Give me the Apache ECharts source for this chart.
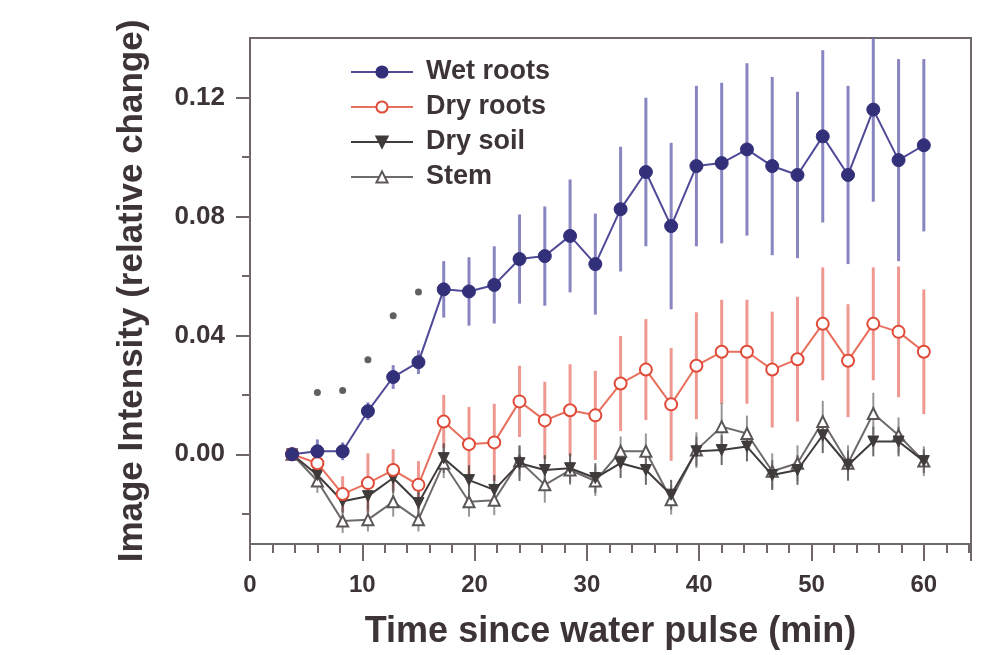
<!DOCTYPE html>
<html>
<head>
<meta charset="utf-8">
<script src="https://cdn.jsdelivr.net/npm/echarts@6/dist/echarts.min.js"></script>
<style>html,body{margin:0;padding:0;background:#fff;}#c{width:987px;height:655px;}</style>
</head>
<body>
<div id="c"></div>
<script>
// ---- data ----
const times = [3.75, 6.0, 8.25, 10.5, 12.75, 15.0, 17.25, 19.5, 21.75, 24.0, 26.25, 28.5, 30.75,
               33.0, 35.25, 37.5, 39.75, 42.0, 44.25, 46.5, 48.75, 51.0, 53.25, 55.5, 57.75, 60.0];

const wetRoots = [0.000, 0.001, 0.001, 0.0145, 0.026, 0.031, 0.0555, 0.0548, 0.057, 0.0657, 0.0667, 0.0735, 0.064,
                  0.0825, 0.095, 0.0768, 0.097, 0.098, 0.1026, 0.097, 0.094, 0.107, 0.094, 0.116, 0.099, 0.104];
const wetErr   = [0, 0.004, 0.003, 0.003, 0.004, 0.004, 0.0095, 0.0115, 0.013, 0.015, 0.0167, 0.019, 0.017,
                  0.021, 0.025, 0.028, 0.027, 0.027, 0.029, 0.030, 0.028, 0.029, 0.030, 0.031, 0.034, 0.029];

const dryRoots = [0.000, -0.003, -0.0134, -0.0097, -0.0053, -0.0103, 0.011, 0.0034, 0.004, 0.0178, 0.0114, 0.0148, 0.0131,
                  0.0238, 0.0285, 0.0168, 0.0298, 0.0345, 0.0345, 0.0285, 0.032, 0.0439, 0.0315, 0.0439, 0.0412, 0.0345];
const dryErr   = [0, 0.003, 0.006, 0.010, 0.007, 0.008, 0.009, 0.0125, 0.013, 0.012, 0.013, 0.0155, 0.015,
                  0.016, 0.017, 0.019, 0.018, 0.0175, 0.0175, 0.0195, 0.021, 0.019, 0.019, 0.019, 0.022, 0.021];

const drySoil  = [0.000, -0.007, -0.0158, -0.0141, -0.008, -0.0164, -0.0013, -0.0087, -0.012, -0.003, -0.0053, -0.0047, -0.008,
                  -0.003, -0.0053, -0.0136, 0.001, 0.0014, 0.0026, -0.007, -0.0053, 0.0064, -0.0037, 0.0043, 0.0043, -0.0023];
const soilErr  = [0, 0.003, 0.004, 0.005, 0.005, 0.004, 0.005, 0.005, 0.005, 0.006, 0.005, 0.005, 0.005,
                  0.005, 0.005, 0.005, 0.005, 0.005, 0.005, 0.005, 0.005, 0.006, 0.005, 0.005, 0.005, 0.004];

const stem     = [0.000, -0.009, -0.0225, -0.022, -0.016, -0.022, -0.003, -0.016, -0.0155, -0.0023, -0.0103, -0.0053, -0.009,
                  0.001, 0.001, -0.0153, 0.0014, 0.0093, 0.007, -0.0057, -0.003, 0.011, -0.003, 0.0137, 0.0064, -0.0023];
const stemErr  = [0, 0.004, 0.004, 0.004, 0.005, 0.004, 0.005, 0.005, 0.005, 0.005, 0.006, 0.005, 0.005,
                  0.005, 0.006, 0.005, 0.006, 0.008, 0.006, 0.006, 0.006, 0.007, 0.006, 0.007, 0.006, 0.005];

const sigTimes  = [6.0, 8.25, 10.5, 12.75, 15.0];
const sigValues = [0.0208, 0.0215, 0.0318, 0.0466, 0.0546];

const xTickLabels = [0, 10, 20, 30, 40, 50, 60];
const yTickLabels = [0.00, 0.04, 0.08, 0.12];
const yMinorTicks = [-0.02, 0.02, 0.06, 0.10];

const seriesNames = ['Wet roots', 'Dry roots', 'Dry soil', 'Stem'];

// ---- build ----
const FONT = '"Liberation Sans", Arial, sans-serif';
const TXT = '#3d3438';
const AX = '#6f6769';

function pairs(vals) { return vals.map((v, i) => [times[i], v]); }
function bars(vals, errs) { return vals.map((v, i) => [times[i], v - errs[i], v + errs[i]]); }
function errSeries(name, vals, errs, color, width) {
  return {
    type: 'custom', name: name, z: 1, clip: true, silent: true,
    data: bars(vals, errs),
    renderItem: function (params, api) {
      const x = api.value(0);
      const p1 = api.coord([x, api.value(1)]);
      const p2 = api.coord([x, api.value(2)]);
      return { type: 'line', shape: { x1: p1[0], y1: p1[1], x2: p2[0], y2: p2[1] },
               style: { stroke: color, lineWidth: width } };
    }
  };
}

const chart = echarts.init(document.getElementById('c'), null, { renderer: 'canvas' });
chart.setOption({
  animation: false,
  backgroundColor: '#ffffff',
  grid: { left: 250, right: 16, top: 38, bottom: 109, show: true, borderColor: AX, borderWidth: 2, backgroundColor: 'transparent' },
  legend: {
    data: seriesNames,
    orient: 'vertical', left: 345, top: 53,
    itemWidth: 62, itemHeight: 14, itemGap: 7,
    textStyle: { fontFamily: FONT, fontWeight: 'bold', fontSize: 27, color: TXT, lineHeight: 28, padding: [0, 0, 0, 8] }
  },
  xAxis: {
    type: 'value', min: 0, max: 64.2, interval: 10,
    name: 'Time since water pulse (min)', nameLocation: 'middle', nameGap: 70,
    nameTextStyle: { fontFamily: FONT, fontWeight: 'bold', fontSize: 36, color: TXT },
    axisLine: { show: true, onZero: false, lineStyle: { color: AX, width: 2 } },
    axisTick: { show: true, inside: false, length: 17, lineStyle: { color: AX, width: 2 } },
    minorTick: { show: true, splitNumber: 5, length: 9, lineStyle: { color: AX, width: 2 } },
    splitLine: { show: false },
    axisLabel: { fontFamily: FONT, fontWeight: 'bold', fontSize: 24, color: TXT, margin: 29,
                 customValues: xTickLabels }
  },
  yAxis: [{
    type: 'value', min: -0.0302, max: 0.1401,
    name: 'Image Intensity (relative change)', nameLocation: 'middle', nameGap: 100, nameRotate: 90,
    nameTextStyle: { fontFamily: FONT, fontWeight: 'bold', fontSize: 35, color: TXT },
    axisLine: { show: true, onZero: false, lineStyle: { color: AX, width: 2 } },
    axisTick: { show: true, inside: false, length: 14, lineStyle: { color: AX, width: 2 }, customValues: yTickLabels },
    splitLine: { show: false },
    axisLabel: { fontFamily: FONT, fontWeight: 'bold', fontSize: 26, color: TXT, margin: 25,
                 customValues: yTickLabels, formatter: v => v.toFixed(2) }
  }, {
    type: 'value', min: -0.0302, max: 0.1401, position: 'left',
    axisLine: { show: false, onZero: false },
    axisTick: { show: true, inside: false, length: 8, lineStyle: { color: AX, width: 2 }, customValues: yMinorTicks },
    axisLabel: { show: false, customValues: yMinorTicks },
    splitLine: { show: false }
  }],
  series: [
    errSeries('wetErr', wetRoots, wetErr, 'rgba(108,103,178,0.8)', 3),
    errSeries('dryErr', dryRoots, dryErr, 'rgba(232,108,98,0.7)', 3),
    errSeries('soilErr', drySoil, soilErr, 'rgba(70,66,66,0.8)', 2),
    errSeries('stemErr', stem, stemErr, 'rgba(110,106,106,0.7)', 2),
    {
      type: 'line', name: 'Stem', z: 3, data: pairs(stem),
      symbol: 'triangle', symbolSize: 11,
      lineStyle: { color: '#6e6a6a', width: 2 },
      itemStyle: { color: '#ffffff', borderColor: '#5a5656', borderWidth: 2 }
    },
    {
      type: 'line', name: 'Dry soil', z: 4, data: pairs(drySoil),
      symbol: 'triangle', symbolRotate: 180, symbolSize: 11,
      lineStyle: { color: '#3f3b3b', width: 2 },
      itemStyle: { color: '#3f3b3b', borderColor: '#3f3b3b', borderWidth: 1 }
    },
    {
      type: 'line', name: 'Dry roots', z: 5, data: pairs(dryRoots),
      symbol: 'circle', symbolSize: 12,
      lineStyle: { color: '#e8705e', width: 2 },
      itemStyle: { color: '#ffffff', borderColor: '#e04a38', borderWidth: 2 }
    },
    {
      type: 'line', name: 'Wet roots', z: 6, data: pairs(wetRoots),
      symbol: 'circle', symbolSize: 13,
      lineStyle: { color: '#4f4a98', width: 2 },
      itemStyle: { color: '#33307a', borderColor: '#33307a', borderWidth: 1 }
    },
    {
      type: 'scatter', name: 'significance', z: 6, silent: true,
      data: sigTimes.map((t, i) => [t, sigValues[i]]),
      symbol: 'circle', symbolSize: 7,
      itemStyle: { color: '#3a3838' }
    }
  ]
});
</script>
</body>
</html>
